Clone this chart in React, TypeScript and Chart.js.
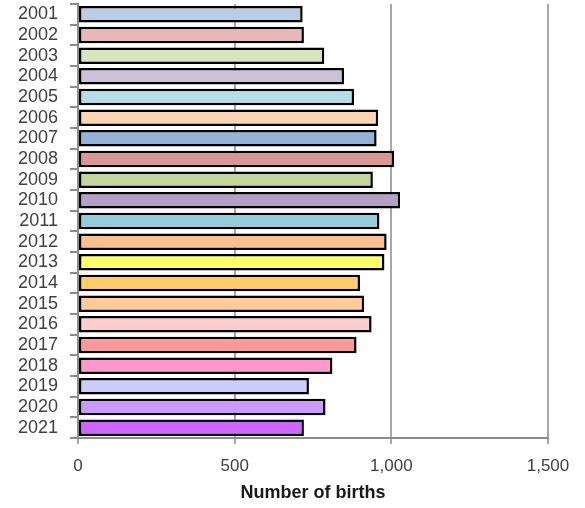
import React, { useEffect, useRef } from "react";
import { Chart, registerables } from "chart.js";

Chart.register(...registerables);

const years = ["2001","2002","2003","2004","2005","2006","2007","2008","2009","2010","2011","2012","2013","2014","2015","2016","2017","2018","2019","2020","2021"];
const births = [717, 721, 786, 849, 881, 958, 953, 1009, 941, 1028, 962, 985, 978, 900, 913, 937, 889, 812, 737, 790, 721];
const barColors = ["#B9CDE5","#E6B9B8","#D7E4BD","#CCC1DA","#B7DEE8","#FCD5B5","#95B3D7","#D99694","#C3D69B","#B3A2C7","#93CDDD","#FAC090","#FFFF66","#FFCC66","#FFCC99","#FFCCCC","#FF9999","#FF99CC","#CCCCFF","#CC99FF","#CC66FF"];
const xTicks = [0, 500, 1000, 1500];
const xTitle = "Number of births";

export default function App() {
  const ref = useRef<HTMLCanvasElement | null>(null);
  useEffect(() => {
    if (!ref.current) return;
    const chart = new Chart(ref.current, {
      type: "bar",
      data: {
        labels: years,
        datasets: [
          {
            data: births,
            backgroundColor: barColors,
            borderColor: "#000000",
            borderWidth: 2.5,
            borderSkipped: false,
            barPercentage: 0.8,
            categoryPercentage: 1,
          },
        ],
      },
      options: {
        indexAxis: "y",
        responsive: false,
        animation: false,
        layout: { padding: { top: 4, right: 37, left: 0, bottom: 0 } },
        plugins: { legend: { display: false }, tooltip: { enabled: false } },
        scales: {
          x: {
            min: xTicks[0],
            max: xTicks[xTicks.length - 1],
            afterBuildTicks: (s: any) => {
              s.ticks = xTicks.map((v) => ({ value: v }));
            },
            afterFit: (s: any) => {
              s.height = 70;
              s.paddingLeft = 0;
              s.paddingRight = 0;
            },
            border: { display: true, color: "#8c8c8c", width: 2 },
            grid: { color: "#a6a6a6", lineWidth: 2, tickLength: 6, drawTicks: true },
            ticks: {
              color: "#404040",
              font: { family: "'Liberation Sans', sans-serif", size: 17 },
              padding: 12,
              callback: (v: any) => Number(v).toLocaleString("en-US"),
            },
            title: {
              display: true,
              text: xTitle,
              color: "#1a1a1a",
              font: { family: "'Liberation Sans', sans-serif", size: 18, weight: "bold" },
            },
          },
          y: {
            afterFit: (s: any) => {
              s.width = 78;
              s.paddingTop = 0;
              s.paddingBottom = 0;
            },
            border: { display: true, color: "#8c8c8c", width: 2 },
            grid: { drawOnChartArea: false, color: "#8c8c8c", lineWidth: 2, tickLength: 8, offset: true },
            ticks: {
              color: "#404040",
              font: { family: "'Liberation Sans', sans-serif", size: 18 },
              padding: 12,
              autoSkip: false,
            },
          },
        },
      },
    });
    return () => chart.destroy();
  }, []);
  return (
    <div style={{ position: "absolute", left: 0, top: 0, width: 585, height: 508, background: "#fff" }}>
      <canvas ref={ref} width={585} height={508} style={{ width: 585, height: 508 }} />
    </div>
  );
}
